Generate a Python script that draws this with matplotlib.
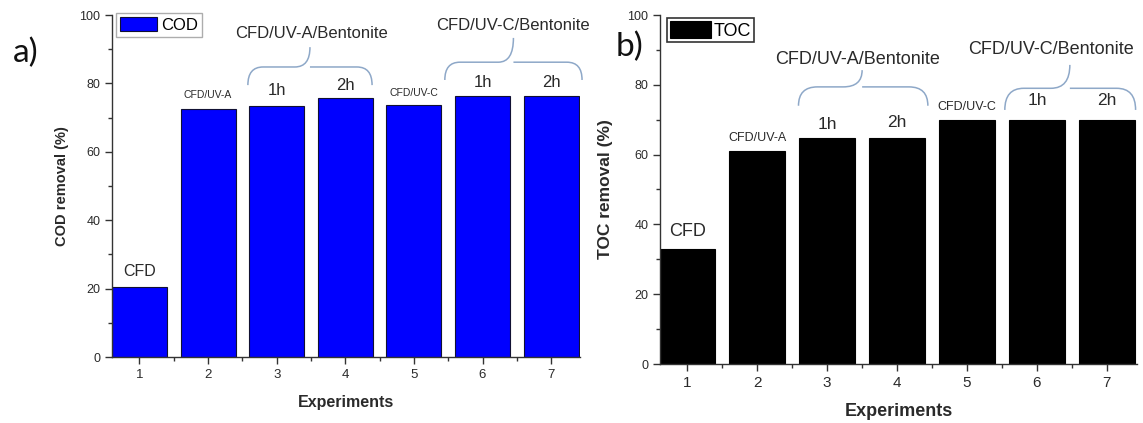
import numpy as np
import matplotlib
matplotlib.use("Agg")
import matplotlib.pyplot as plt
from matplotlib.path import Path
from matplotlib.patches import PathPatch

plt.rcParams["font.family"] = ["Liberation Sans", "DejaVu Sans"]

# dados
experiments = [1, 2, 3, 4, 5, 6, 7]
cod_removal = [20.6, 72.4, 73.4, 75.8, 73.6, 76.3, 76.3]
toc_removal = [33.0, 61.1, 64.7, 64.7, 69.8, 69.8, 69.8]
bar_labels = ["CFD", "CFD/UV-A", "1h", "2h", "CFD/UV-C", "1h", "2h"]
group_names = ["CFD/UV-A/Bentonite", "CFD/UV-C/Bentonite"]

txt = "#2a2a2a"
brace_col = "#8ea8c8"


def brace(ax, x0, x1, yb, yh, yc, w=0.2, xm=None):
    if xm is None:
        xm = (x0 + x1) / 2
    verts = [(x0, yb), (x0, yh), (x0 + w, yh), (xm - w, yh), (xm, yh), (xm, yc),
             (xm, yh), (xm + w, yh), (x1 - w, yh), (x1, yh), (x1, yb)]
    codes = [Path.MOVETO, Path.CURVE3, Path.CURVE3, Path.LINETO, Path.CURVE3, Path.CURVE3,
             Path.MOVETO, Path.CURVE3, Path.LINETO, Path.CURVE3, Path.CURVE3]
    ax.add_patch(PathPatch(Path(verts, codes), fc="none", ec=brace_col, lw=1.1, clip_on=False))


fig = plt.figure(figsize=(11.43, 4.23), dpi=100)
axA = fig.add_axes([112 / 1143, 1 - 357 / 423, 468 / 1143, 342 / 423])
axB = fig.add_axes([660 / 1143, 1 - 364 / 423, 477 / 1143, 349 / 423])

# a) COD
axA.bar(experiments, cod_removal, width=0.8, color="#0000ff", edgecolor="#111133", lw=0.8, label="COD")
# b) TOC
axB.bar(experiments, toc_removal, width=0.8, color="black", edgecolor="black", lw=0.8, label="TOC")

for ax, xl, tick_fs, lab_fs in [(axA, (0.6, 7.42), 9.5, 11.5), (axB, (0.61, 7.43), 11, 13)]:
    ax.set_xlim(*xl)
    ax.set_ylim(0, 100)
    ax.set_xticks(experiments)
    ax.set_xticks(np.arange(1.5, 7.5, 1), minor=True)
    ax.set_yticks(range(0, 101, 20))
    ax.set_yticks(range(10, 100, 20), minor=True)
    ax.spines["top"].set_visible(False)
    ax.spines["right"].set_visible(False)
    for s in ["left", "bottom"]:
        ax.spines[s].set_color("#333333")
        ax.spines[s].set_linewidth(1)
    ax.tick_params(which="major", direction="out", length=5, width=1, color="#333333",
                   labelcolor=txt, labelsize=9)
    ax.tick_params(which="minor", direction="out", length=3, width=1, color="#333333")
    ax.tick_params(axis="x", labelsize=tick_fs)
    ax.set_xlabel("Experiments", fontweight="bold", fontsize=lab_fs, color=txt, va="center")

axA.set_ylabel("COD removal (%)", fontweight="bold", fontsize=10.5, color=txt, va="center")
axB.set_ylabel("TOC removal (%)", fontweight="bold", fontsize=12.5, color=txt, va="center")
axA.yaxis.set_label_coords(-0.107, 0.5)
axB.yaxis.set_label_coords(-0.115, 0.5)
axA.xaxis.set_label_coords(0.5, -0.132)
axB.xaxis.set_label_coords(0.5, -0.1375)

legA = axA.legend(loc="upper left", bbox_to_anchor=(0.008, 1.005), fontsize=12, frameon=True,
                  fancybox=False, edgecolor="#999999", borderpad=0.25, handlelength=2.2,
                  handleheight=0.85, handletextpad=0.25, borderaxespad=0)
legA.get_frame().set_linewidth(1)
legB = axB.legend(loc="upper left", bbox_to_anchor=(0.015, 0.99), fontsize=13, frameon=True,
                  fancybox=False, edgecolor="black", borderpad=0.15, handlelength=2.3,
                  handleheight=1.05, handletextpad=0.15, borderaxespad=0)
legB.get_frame().set_linewidth(1.2)

# rótulos sobre as barras
sizesA = [11.5, 7.5, 12, 12, 7.5, 12, 12]
offA = [4.3, 4.2, 4.5, 3.7, 3.6, 4.1, 4.1]
for x, v, lab, fs, off in zip(experiments, cod_removal, bar_labels, sizesA, offA):
    axA.text(x, v + off, lab, ha="center", va="center", fontsize=fs, color=txt)
sizesB = [13, 9, 12.5, 12.5, 9, 12.5, 12.5]
offB = [4.9, 3.6, 3.8, 4.4, 3.8, 5.8, 5.8]
for x, v, lab, fs, off in zip(experiments, toc_removal, bar_labels, sizesB, offB):
    axB.text(x, v + off, lab, ha="center", va="center", fontsize=fs, color=txt)

# chaves dos grupos com bentonita
brace(axA, 2.58, 4.39, 79.5, 84.8, 90.6, w=0.22)
axA.text(3.5, 94.7, group_names[0], ha="center", va="center", fontsize=12, color=txt)
brace(axA, 5.45, 7.45, 81.0, 86.2, 93.3, w=0.22)
axA.text(6.45, 96.8, group_names[1], ha="center", va="center", fontsize=12, color=txt)

brace(axB, 2.59, 4.44, 74.0, 79.4, 84.2, w=0.27, xm=3.5)
axB.text(3.43, 87.3, group_names[0], ha="center", va="center", fontsize=13, color=txt)
brace(axB, 5.54, 7.41, 72.8, 79.0, 85.7, w=0.27, xm=6.47)
axB.text(6.2, 90.2, group_names[1], ha="center", va="center", fontsize=13, color=txt)

fig.text(26 / 1143, 1 - 53 / 423, "a)", fontsize=24, family=["Lato", "DejaVu Sans"],
         ha="center", va="center", color="#111111")
fig.text(629 / 1143, 1 - 47 / 423, "b)", fontsize=24, family=["Lato", "DejaVu Sans"],
         ha="center", va="center", color="#111111")

fig.savefig("out.png", dpi=100)
